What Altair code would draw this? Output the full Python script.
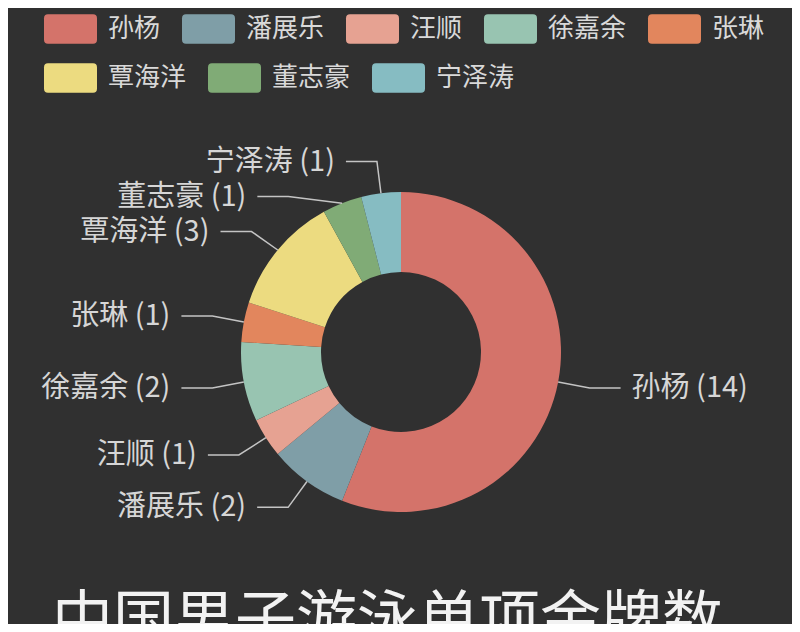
import math
import altair as alt
import pandas as pd

# ---- data ----
names = ["孙杨", "潘展乐", "汪顺", "徐嘉余", "张琳", "覃海洋", "董志豪", "宁泽涛"]
golds = [14, 2, 1, 2, 1, 3, 1, 1]
palette = ["#d4736a", "#7f9ea7", "#e6a292", "#98c4b1", "#e2865d", "#ecdb80", "#80ab76", "#86bcc2"]
title_text = "中国男子游泳单项金牌数"

# ---- layout constants ----
W, H = 782, 456
PAD = {"left": 2, "top": 116, "right": 0, "bottom": 44}
CX_PAGE = 8 + PAD["left"] + W / 2
CY_PAGE = 8 + PAD["top"] + H / 2
R_OUT, R_IN = 160, 80
R_ELBOW = 192
ARM = 31
TEXT_GAP = 11
LINE_GAP = 35
FONT = "Noto Sans CJK SC"
BG = "#303030"
LABEL_SIZE = 29

# legend layout (flow, like the reference)
LEG_COLS = 5
LEG_FONT = 26
LEG_X0 = 44
LEG_ROW_Y = [29, 78]
SYM_W = 53
SYM_GAP = 11
ITEM_GAP = 22

df = pd.DataFrame({"name": names, "value": golds, "idx": list(range(len(names)))})

# ---- label layout (leader lines, computed from the values) ----
total = sum(golds)
info = []
cum = 0
for i, (n, v) in enumerate(zip(names, golds)):
    a = 2 * math.pi * (cum + v / 2) / total
    cum += v
    side = 1 if math.sin(a) >= 0 else -1
    info.append({"name": n, "value": v, "a": a, "side": side, "ey": R_ELBOW * math.cos(a)})
for s in (1, -1):
    items = sorted([r for r in info if r["side"] == s], key=lambda r: -r["ey"])
    for k in range(1, len(items)):
        if items[k]["ey"] > items[k - 1]["ey"] - LINE_GAP:
            items[k]["ey"] = items[k - 1]["ey"] - LINE_GAP

line_rows, text_rows = [], []
for r in info:
    s = r["side"]
    sx, sy = R_OUT * math.sin(r["a"]), R_OUT * math.cos(r["a"])
    ey = r["ey"]
    ex = s * math.sqrt(max(R_ELBOW ** 2 - ey ** 2, 0))
    hx = ex + s * ARM
    for k, (px, py) in enumerate([(sx, sy), (ex, ey), (hx, ey)]):
        line_rows.append({"name": r["name"], "k": k, "px": px, "py": py})
    text_rows.append({"label": f"{r['name']} ({r['value']})", "px": hx + s * TEXT_GAP,
                      "py": ey, "side": "right" if s > 0 else "left"})
lines_df = pd.DataFrame(line_rows)
text_df = pd.DataFrame(text_rows)

# ---- legend layout (flow rows) ----
leg_rows = []
for i, n in enumerate(names):
    row, col = divmod(i, LEG_COLS)
    if col == 0:
        x = LEG_X0
    py_page = LEG_ROW_Y[row]
    leg_rows.append({"name": n, "px": x + SYM_W / 2 - CX_PAGE, "py": CY_PAGE - py_page,
                     "tx": x + SYM_W + SYM_GAP - CX_PAGE})
    x += SYM_W + SYM_GAP + len(n) * LEG_FONT + ITEM_GAP
leg_df = pd.DataFrame(leg_rows)

xs = alt.X("px:Q", scale=alt.Scale(domain=[-W / 2, W / 2], nice=False, zero=False), axis=None)
ys = alt.Y("py:Q", scale=alt.Scale(domain=[-H / 2, H / 2], nice=False, zero=False), axis=None)
colors = alt.Color("name:N", scale=alt.Scale(domain=names, range=palette), legend=None)

SYMBOL = ("M-0.85,-0.56L0.85,-0.56Q1,-0.56 1,-0.41L1,0.41Q1,0.56 0.85,0.56"
          "L-0.85,0.56Q-1,0.56 -1,0.41L-1,-0.41Q-1,-0.56 -0.85,-0.56Z")

arcs = alt.Chart(df).mark_arc(outerRadius=R_OUT, innerRadius=R_IN).encode(
    theta=alt.Theta("value:Q", stack=True),
    order=alt.Order("idx:Q"),
    color=colors,
)

leaders = alt.Chart(lines_df).mark_line(color="#c4c4c4", strokeWidth=1.5).encode(
    x=xs, y=ys, detail="name:N", order="k:Q"
)

labels_left = alt.Chart(text_df).transform_filter(alt.datum.side == "left").mark_text(
    align="right", baseline="middle", fontSize=LABEL_SIZE, font=FONT, color="#d6d6d6"
).encode(x=xs, y=ys, text="label:N")

labels_right = alt.Chart(text_df).transform_filter(alt.datum.side == "right").mark_text(
    align="left", baseline="middle", fontSize=LABEL_SIZE, font=FONT, color="#d6d6d6"
).encode(x=xs, y=ys, text="label:N")

leg_symbols = alt.Chart(leg_df).mark_point(
    shape=SYMBOL, size=SYM_W ** 2, filled=True, opacity=1, strokeWidth=0
).encode(x=xs, y=ys, color=colors)

leg_labels = alt.Chart(leg_df).mark_text(
    align="left", baseline="middle", fontSize=LEG_FONT, font=FONT, color="#d9d9d9"
).encode(x=alt.X("tx:Q", scale=alt.Scale(domain=[-W / 2, W / 2], nice=False, zero=False), axis=None),
         y=ys, text="name:N")

chart = alt.layer(arcs, leaders, labels_left, labels_right, leg_symbols, leg_labels).properties(
    width=W, height=H,
    padding=PAD,
    autosize=alt.AutoSizeParams(type="none"),
    background=BG,
    title=alt.Title(title_text, orient="bottom", anchor="start", frame="group",
                    offset=13, dx=42, fontSize=61, color="#f2f2f2", font=FONT,
                    fontWeight="normal"),
).configure_view(stroke=None)

chart.save("out.html", embed_options={"renderer": "svg", "actions": False})
